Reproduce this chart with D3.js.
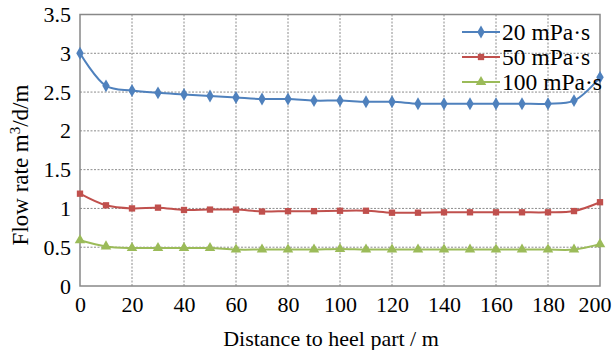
<!DOCTYPE html>
<html>
<head>
<meta charset="utf-8">
<script src="https://cdn.jsdelivr.net/npm/d3@7"></script>
<style>
  body { margin: 0; background: #fff; }
  text { font-family: "Liberation Serif", "Times New Roman", serif; fill: #000; }
</style>
</head>
<body>
<div id="chart"></div>
<script>
"use strict";

var distance = [0, 10, 20, 30, 40, 50, 60, 70, 80, 90, 100, 110, 120, 130, 140, 150, 160, 170, 180, 190, 200];
var flow20 = [3.0, 2.58, 2.52, 2.49, 2.47, 2.45, 2.43, 2.41, 2.41, 2.39, 2.39, 2.375, 2.375, 2.35, 2.35, 2.35, 2.35, 2.35, 2.35, 2.39, 2.69];
var flow50 = [1.19, 1.04, 1.0, 1.01, 0.98, 0.985, 0.985, 0.96, 0.965, 0.965, 0.97, 0.97, 0.945, 0.945, 0.95, 0.95, 0.95, 0.95, 0.95, 0.966, 1.08];
var flow100 = [0.59, 0.51, 0.49, 0.49, 0.49, 0.49, 0.47, 0.47, 0.47, 0.47, 0.477, 0.47, 0.47, 0.47, 0.47, 0.47, 0.47, 0.47, 0.47, 0.47, 0.54];
var seriesNames = ["20 mPa\u00b7s", "50 mPa\u00b7s", "100 mPa\u00b7s"];
var xTicks = [0, 20, 40, 60, 80, 100, 120, 140, 160, 180, 200];
var yTicks = [0, 0.5, 1, 1.5, 2, 2.5, 3, 3.5];

var width = 615,
    height = 350,
    plotLeft = 80,
    plotRight = 600,
    plotTop = 14.5,
    plotBottom = 286;

var colors = ["#4f81bd", "#c0504d", "#9bbb59"];
var symbols = [d3.symbolDiamond, d3.symbolSquare, d3.symbolTriangle];
var symSizes = [48, 40, 48];

var xScale = d3.scaleLinear().domain([0, 200]).range([plotLeft, plotRight]);
var yScale = d3.scaleLinear().domain([0, 3.5]).range([plotBottom, plotTop]);

var svg = d3.select("#chart").append("svg")
  .attr("width", width)
  .attr("height", height);

// grid
svg.append("g").selectAll("line").data(yTicks.slice(1, -1))
  .enter().append("line")
    .attr("x1", plotLeft).attr("x2", plotRight)
    .attr("y1", function (d) { return yScale(d); })
    .attr("y2", function (d) { return yScale(d); })
    .style("stroke", "#8c8c8c")
    .style("stroke-dasharray", "2,1.5");

svg.append("g").selectAll("line").data(xTicks.slice(1, -1))
  .enter().append("line")
    .attr("y1", plotTop).attr("y2", plotBottom)
    .attr("x1", function (d) { return xScale(d); })
    .attr("x2", function (d) { return xScale(d); })
    .style("stroke", "#8c8c8c")
    .style("stroke-dasharray", "2,1.5");

// frame
svg.append("rect")
  .attr("x", plotLeft).attr("y", plotTop)
  .attr("width", plotRight - plotLeft).attr("height", plotBottom - plotTop)
  .style("fill", "none")
  .style("stroke", "#888")
  .style("stroke-width", 1.5);

// axes
var xAxis = svg.append("g")
  .attr("transform", "translate(0," + plotBottom + ")")
  .call(d3.axisBottom(xScale).tickValues(xTicks).tickSize(0));
xAxis.select(".domain").remove();
xAxis.selectAll("text")
  .attr("y", 26).attr("dy", null)
  .style("font-size", "22px").style("font-family", "Liberation Serif");
// last label is pulled in so it fits the page, as in the original
xAxis.selectAll("text").filter(function (d) { return d === 200; })
  .attr("text-anchor", "end").attr("x", 11);

var yAxis = svg.append("g")
  .attr("transform", "translate(" + plotLeft + ",0)")
  .call(d3.axisLeft(yScale).tickValues(yTicks).tickSize(0).tickPadding(9)
    .tickFormat(function (d) { return String(d); }));
yAxis.select(".domain").remove();
yAxis.selectAll("text").style("font-size", "22px").style("font-family", "Liberation Serif");

// axis titles
svg.append("text")
  .attr("x", 331)
  .attr("y", 346)
  .attr("text-anchor", "middle")
  .style("font-size", "22px")
  .text("Distance to heel part / m");

var yTitle = svg.append("text")
  .attr("transform", "translate(28,165) rotate(-90)")
  .attr("text-anchor", "middle")
  .style("font-size", "23px");
yTitle.append("tspan").text("Flow rate m");
yTitle.append("tspan").attr("dy", -8).style("font-size", "15px").text("3");
yTitle.append("tspan").attr("dy", 8).text("/d/m");

// series
var allSeries = [flow20, flow50, flow100];

var line = d3.line()
  .x(function (d, i) { return xScale(distance[i]); })
  .y(function (d) { return yScale(d); })
  .curve(d3.curveCatmullRom.alpha(0.5));

allSeries.forEach(function (values, s) {
  svg.append("path")
    .datum(values)
    .attr("d", line)
    .style("fill", "none")
    .style("stroke", colors[s])
    .style("stroke-width", 2);

  svg.append("g").selectAll("path").data(values)
    .enter().append("path")
      .attr("d", d3.symbol().type(symbols[s]).size(symSizes[s]))
      .attr("transform", function (d, i) {
        return "translate(" + xScale(distance[i]) + "," + yScale(d) + ")";
      })
      .style("fill", colors[s]);
});

// legend
var legend = svg.append("g");
seriesNames.forEach(function (name, s) {
  var ly = 32 + s * 25;
  legend.append("line")
    .attr("x1", 462).attr("x2", 500)
    .attr("y1", ly).attr("y2", ly)
    .style("stroke", colors[s])
    .style("stroke-width", 2);
  legend.append("path")
    .attr("d", d3.symbol().type(symbols[s]).size(symSizes[s]))
    .attr("transform", "translate(481," + ly + ")")
    .style("fill", colors[s]);
  legend.append("text")
    .attr("x", 502)
    .attr("y", ly + 7.5)
    .style("font-size", "23.5px")
    .text(name);
});
</script>
</body>
</html>
